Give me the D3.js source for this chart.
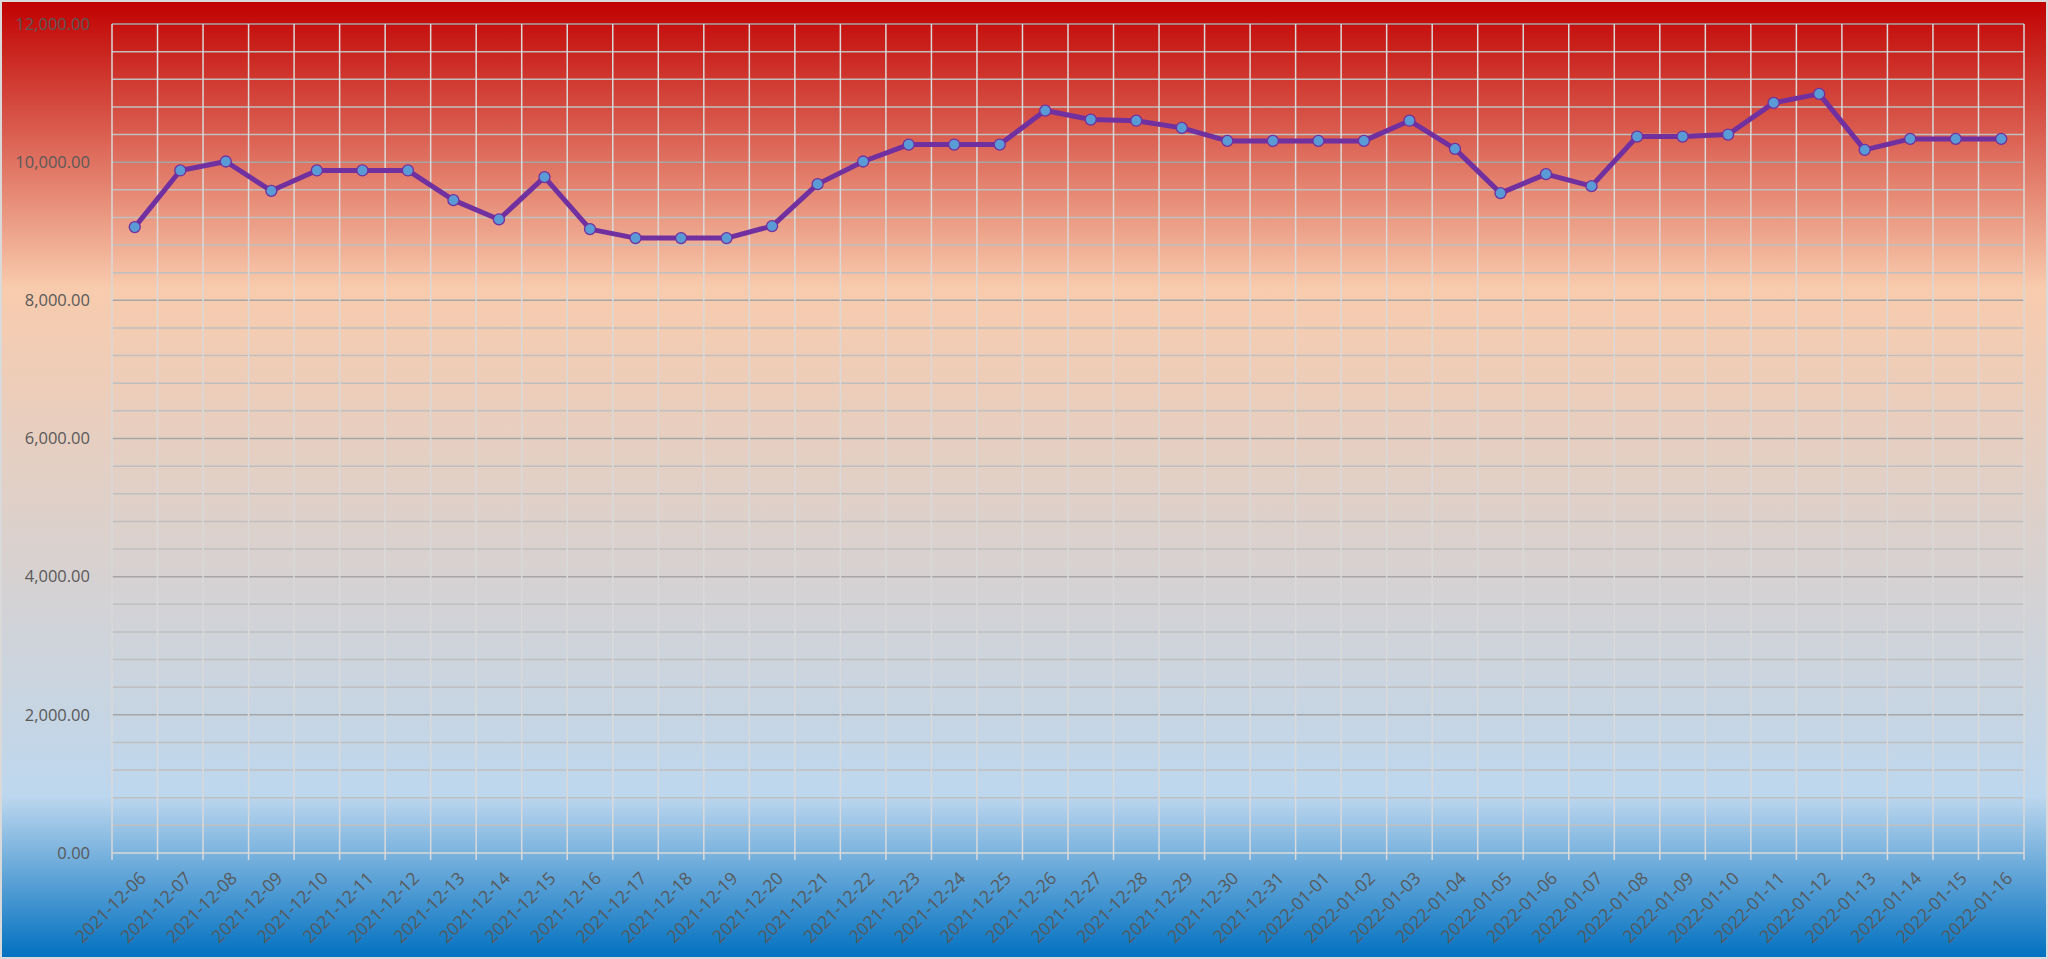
<!DOCTYPE html>
<html>
<head>
<meta charset="utf-8">
<script src="https://cdn.jsdelivr.net/npm/d3@7"></script>
<style>
  html, body { margin: 0; padding: 0; background: #ffffff; }
  svg { display: block; }
</style>
</head>
<body>
<svg id="chart" width="2048" height="959"></svg>
<script>
// ---- data ----
const categories = [
  "2021-12-06","2021-12-07","2021-12-08","2021-12-09","2021-12-10","2021-12-11","2021-12-12",
  "2021-12-13","2021-12-14","2021-12-15","2021-12-16","2021-12-17","2021-12-18","2021-12-19",
  "2021-12-20","2021-12-21","2021-12-22","2021-12-23","2021-12-24","2021-12-25","2021-12-26",
  "2021-12-27","2021-12-28","2021-12-29","2021-12-30","2021-12-31","2022-01-01","2022-01-02",
  "2022-01-03","2022-01-04","2022-01-05","2022-01-06","2022-01-07","2022-01-08","2022-01-09",
  "2022-01-10","2022-01-11","2022-01-12","2022-01-13","2022-01-14","2022-01-15","2022-01-16"
];
const values = [
  9060, 9880, 10010, 9585, 9880, 9880, 9880,
  9450, 9171, 9783, 9031, 8901, 8901, 8901,
  9075, 9682, 10010, 10255, 10255, 10255, 10747,
  10617, 10600, 10496, 10308, 10308, 10308, 10308,
  10600, 10193, 9552, 9827, 9653, 10371, 10371,
  10400, 10858, 10988, 10178, 10337, 10337, 10337
];
const yMax = 12000;
const yMajorStep = 2000;
const yMinorStep = 400;

// ---- layout ----
const W = 2048, H = 959;
const plot = { left: 112, right: 2024, top: 24, bottom: 853 };

const svg = d3.select("#chart");
const defs = svg.append("defs");
const grad = defs.append("linearGradient")
  .attr("id", "bg").attr("x1", 0).attr("y1", 0).attr("x2", 0).attr("y2", 1);
[[0, "#c00000"], [0.30, "#f8cbad"], [0.83, "#bdd7ee"], [1, "#0070c0"]].forEach(([o, c]) =>
  grad.append("stop").attr("offset", o).attr("stop-color", c));

svg.append("rect").attr("x", 0).attr("y", 0).attr("width", W).attr("height", H)
  .attr("fill", "url(#bg)");
svg.append("rect").attr("x", 1).attr("y", 1).attr("width", W - 2).attr("height", H - 2)
  .attr("fill", "none").attr("stroke", "#d9d9d9").attr("stroke-width", 2);

const x = d3.scaleBand().domain(categories).range([plot.left, plot.right]).padding(0);
const y = d3.scaleLinear().domain([0, yMax]).range([plot.bottom, plot.top]);

// horizontal gridlines
const minorTicks = d3.range(0, yMax + 1, yMinorStep);
svg.append("g").selectAll("line").data(minorTicks).join("line")
  .attr("x1", plot.left).attr("x2", plot.right)
  .attr("y1", d => y(d)).attr("y2", d => y(d))
  .attr("stroke", d => d === 0 ? "#d9d9d9" : (d % yMajorStep === 0 ? "#a6a6a6" : "#bfbfbf"))
  .attr("stroke-width", 1.5);

// vertical gridlines at category boundaries (with ticks below axis)
const bounds = categories.map(c => x(c)).concat([plot.right]);
svg.append("g").selectAll("line").data(bounds).join("line")
  .attr("x1", d => d).attr("x2", d => d)
  .attr("y1", plot.top).attr("y2", plot.bottom + 7)
  .attr("stroke", "#d9d9d9").attr("stroke-width", 1.5);

// y axis labels
const fmt = d3.format(",.2f");
svg.append("g").selectAll("text").data(d3.range(0, yMax + 1, yMajorStep)).join("text")
  .attr("x", 90).attr("y", d => y(d)).attr("dy", "0.35em")
  .attr("text-anchor", "end")
  .attr("font-family", "'Open Sans', 'Liberation Sans', sans-serif")
  .attr("font-size", 16.5).attr("fill", "#595959")
  .text(d => fmt(d));

// x axis labels
svg.append("g").selectAll("text").data(categories).join("text")
  .attr("transform", d => `translate(${x(d) + x.bandwidth() / 2 + 8},${plot.bottom + 22}) rotate(-45)`)
  .attr("text-anchor", "end").attr("dy", "0.35em")
  .attr("font-family", "'Open Sans', 'Liberation Sans', sans-serif")
  .attr("font-size", 17.5).attr("fill", "#595959")
  .text(d => d);

// line
const line = d3.line()
  .x((d, i) => x(categories[i]) + x.bandwidth() / 2)
  .y(d => y(d));
svg.append("path").datum(values)
  .attr("d", line).attr("fill", "none")
  .attr("stroke", "#7030a0").attr("stroke-width", 5)
  .attr("stroke-linejoin", "round").attr("stroke-linecap", "round");

// markers
svg.append("g").selectAll("circle").data(values).join("circle")
  .attr("cx", (d, i) => x(categories[i]) + x.bandwidth() / 2)
  .attr("cy", d => y(d)).attr("r", 5.5)
  .attr("fill", "#5b9bd5").attr("stroke", "#7030a0").attr("stroke-width", 1.3);
</script>
</body>
</html>
